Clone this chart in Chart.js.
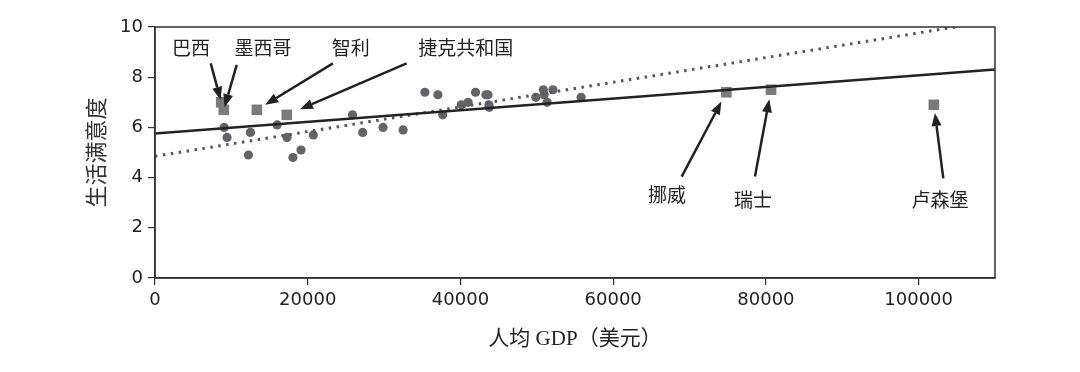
<!DOCTYPE html>
<html>
<head>
<meta charset="utf-8">
<script src="https://cdn.jsdelivr.net/npm/chart.js@4"></script>
<style>
  html, body { margin: 0; padding: 0; background: #fff; }
  #wrap { width: 1080px; height: 372px; }
</style>
</head>
<body>
<div id="wrap"><canvas id="lifeChart" width="1080" height="372"></canvas></div>
<script>
// sample countries (circles)
const sampleGdp = [9054, 9437, 12240, 12495, 15992, 17288, 18064, 19122, 20732, 25865,
  27195, 29867, 32486, 35343, 37045, 37675, 40107, 40997, 41974, 43332,
  43603, 43724, 43771, 49866, 50855, 50962, 51351, 52114, 55805];
const sampleLife = [6.0, 5.6, 4.9, 5.8, 6.1, 5.6, 4.8, 5.1, 5.7, 6.5,
  5.8, 6.0, 5.9, 7.4, 7.3, 6.5, 6.9, 7.0, 7.4, 7.3,
  7.3, 6.9, 6.8, 7.2, 7.5, 7.3, 7.0, 7.5, 7.2];

// countries left out of the sample (squares)
const missingNames = ['巴西', '墨西哥', '智利', '捷克共和国', '挪威', '瑞士', '卢森堡'];
const missingGdp = [8670, 9009, 13340, 17256, 74822, 80675, 101994];
const missingLife = [7.0, 6.7, 6.7, 6.5, 7.4, 7.5, 6.9];

// fitted lines (end points)
const fullFitX = [0, 110000];
const fullFitY = [5.76, 8.31];
const sampleFitX = [0, 104800];
const sampleFitY = [4.85, 10.0];

const xTicks = [0, 20000, 40000, 60000, 80000, 100000];
const yTicks = [0, 2, 4, 6, 8, 10];

// label and arrow tail positions, in data units
const labelX = [4700, 14150, 25650, 40700, 67050, 78300, 102800];
const labelY = [9.16, 9.16, 9.16, 9.16, 3.31, 3.11, 3.11];
const tailX = [7300, 10700, 23300, 32950, 68970, 78570, 103230];
const tailY = [8.55, 8.49, 8.55, 8.55, 4.04, 4.04, 3.97];

const toPoints = (xs, ys) => xs.map((x, i) => ({ x: x, y: ys[i] }));

const annotatePlugin = {
  id: 'annotate',
  afterDatasetsDraw(chart) {
    const { ctx, chartArea: a, scales: { x, y } } = chart;
    ctx.save();
    // frame
    ctx.strokeStyle = '#333';
    ctx.lineWidth = 1.5;
    ctx.strokeRect(a.left, a.top, a.right - a.left, a.bottom - a.top);

    ctx.fillStyle = '#222';
    ctx.strokeStyle = '#222';
    ctx.font = '19px "Noto Sans CJK SC"';
    ctx.textAlign = 'center';
    ctx.textBaseline = 'middle';
    missingNames.forEach((name, i) => {
      ctx.fillText(name, x.getPixelForValue(labelX[i]), y.getPixelForValue(labelY[i]));
      const tx = x.getPixelForValue(tailX[i]);
      const ty = y.getPixelForValue(tailY[i]);
      const px = x.getPixelForValue(missingGdp[i]);
      const py = y.getPixelForValue(missingLife[i]);
      const shrink = i < 2 ? 0.06 : 0.11;
      const hx = px + (tx - px) * shrink;
      const hy = py + (ty - py) * shrink;
      const ang = Math.atan2(hy - ty, hx - tx);
      const headLen = 13, headW = 5;
      const bx = hx - Math.cos(ang) * headLen;
      const by = hy - Math.sin(ang) * headLen;
      ctx.lineWidth = 2.5;
      ctx.beginPath();
      ctx.moveTo(tx, ty);
      ctx.lineTo(bx, by);
      ctx.stroke();
      ctx.beginPath();
      ctx.moveTo(hx, hy);
      ctx.lineTo(bx - Math.sin(ang) * headW, by + Math.cos(ang) * headW);
      ctx.lineTo(bx + Math.sin(ang) * headW, by - Math.cos(ang) * headW);
      ctx.closePath();
      ctx.fill();
    });
    ctx.restore();
  }
};

const ctxLife = document.getElementById('lifeChart').getContext('2d');
new Chart(ctxLife, {
  type: 'scatter',
  data: {
    datasets: [
      {
        type: 'line',
        label: 'full fit',
        data: toPoints(fullFitX, fullFitY),
        borderColor: '#222',
        borderWidth: 2.5,
        pointRadius: 0,
        fill: false
      },
      {
        type: 'line',
        label: 'sample fit',
        data: toPoints(sampleFitX, sampleFitY),
        borderColor: '#555',
        borderWidth: 3,
        borderDash: [2.5, 5.5],
        pointRadius: 0,
        fill: false
      },
      {
        label: 'sample',
        data: toPoints(sampleGdp, sampleLife),
        backgroundColor: '#646468',
        borderWidth: 0,
        pointRadius: 4.6
      },
      {
        label: 'missing',
        data: toPoints(missingGdp, missingLife),
        backgroundColor: '#7b7b7e',
        borderWidth: 0,
        pointStyle: 'rect',
        pointRadius: 7.5
      }
    ]
  },
  options: {
    responsive: false,
    animation: false,
    layout: { padding: { top: 27, right: 85, left: 70, bottom: 20 } },
    plugins: { legend: { display: false }, tooltip: { enabled: false } },
    scales: {
      x: {
        type: 'linear',
        min: 0,
        max: 110000,
        afterBuildTicks: s => { s.ticks = xTicks.map(v => ({ value: v })); },
        afterFit: s => { s.height = 372 - 278 - 20; },
        ticks: {
          color: '#222',
          font: { family: 'DejaVu Sans', size: 18 },
          padding: 5,
          maxRotation: 0,
          callback: v => String(v)
        },
        grid: { drawOnChartArea: false, tickLength: 7, color: '#333', lineWidth: 1.2 },
        border: { color: '#333', width: 1.5 },
        title: {
          display: true,
          text: '人均 GDP（美元）',
          color: '#222',
          font: { family: '"Liberation Serif", "Noto Sans CJK SC"', size: 21 },
          padding: { top: 8, bottom: 0 }
        }
      },
      y: {
        min: 0,
        max: 10,
        afterBuildTicks: s => { s.ticks = yTicks.map(v => ({ value: v })); },
        afterFit: s => { s.width = 155 - 70; },
        ticks: {
          color: '#222',
          font: { family: 'DejaVu Sans', size: 18 },
          padding: 5
        },
        grid: { drawOnChartArea: false, tickLength: 7, color: '#333', lineWidth: 1.2 },
        border: { color: '#333', width: 1.5 },
        title: {
          display: true,
          text: '生活满意度',
          color: '#333',
          font: { family: '"Noto Sans CJK SC"', size: 22 },
          padding: { top: 12, bottom: 0 }
        }
      }
    }
  },
  plugins: [annotatePlugin]
});
</script>
</body>
</html>
